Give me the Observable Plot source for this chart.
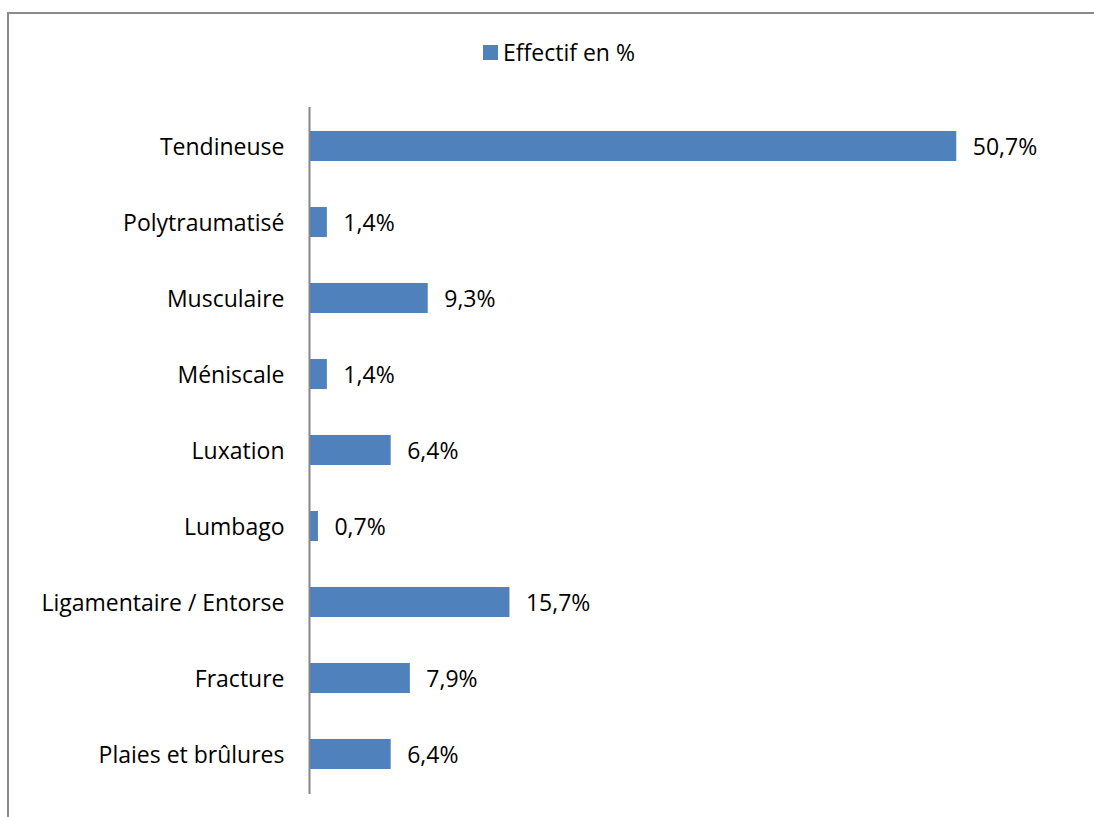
<!DOCTYPE html>
<html>
<head>
<meta charset="utf-8">
<script src="https://cdn.jsdelivr.net/npm/d3@7"></script>
<script src="https://cdn.jsdelivr.net/npm/@observablehq/plot@0.6"></script>
<style>
  html, body { margin: 0; padding: 0; background: #fff; width: 1094px; height: 817px; overflow: hidden; }
  #frame { position: absolute; left: 7px; top: 12px; width: 1100px; height: 820px; border: 2px solid #8a8a8a; box-sizing: border-box; }
  #chart { position: absolute; left: 0; top: 0; }
  #legend { position: absolute; top: 36px; left: 483px; font-family: "Open Sans", sans-serif; font-size: 23px; color: #000; display: flex; align-items: center; }
  #legend .sw { width: 15px; height: 15px; background: #4f81bd; margin-right: 5px; }
</style>
</head>
<body>
<div id="frame"></div>
<div id="chart"></div>
<div id="legend"><span class="sw"></span><span>Effectif en %</span></div>
<script>
const categories = ["Tendineuse", "Polytraumatisé", "Musculaire", "Méniscale", "Luxation", "Lumbago", "Ligamentaire / Entorse", "Fracture", "Plaies et brûlures"];
const values = [50.7, 1.4, 9.3, 1.4, 6.4, 0.7, 15.7, 7.9, 6.4];
const labels = ["50,7%", "1,4%", "9,3%", "1,4%", "6,4%", "0,7%", "15,7%", "7,9%", "6,4%"];
const seriesName = "Effectif en %";

const data = categories.map((c, i) => ({cat: c, v: values[i], lab: labels[i]}));

const plot = Plot.plot({
  width: 1094,
  height: 817,
  marginLeft: 309,
  marginRight: 19,
  marginTop: 107,
  marginBottom: 23,
  style: {fontFamily: "'Open Sans', sans-serif", fontSize: "23px", color: "#000", background: "transparent"},
  x: {domain: [0, 60], axis: null},
  y: {domain: categories, paddingInner: 0.6, paddingOuter: 0.3, label: null},
  marks: [
    Plot.barX(data, {x: "v", y: "cat", fill: "#4f81bd"}),
    Plot.text(data, {x: "v", y: "cat", text: "lab", textAnchor: "start", dx: 16, dy: 1, fontSize: 23, fill: "#000"}),
    Plot.axisY({tickSize: 0, tickPadding: 25, dy: 1, fontSize: 23, label: null}),
    Plot.ruleX([0], {stroke: "#868686", strokeWidth: 2})
  ]
});
document.getElementById("chart").appendChild(plot);
</script>
</body>
</html>
